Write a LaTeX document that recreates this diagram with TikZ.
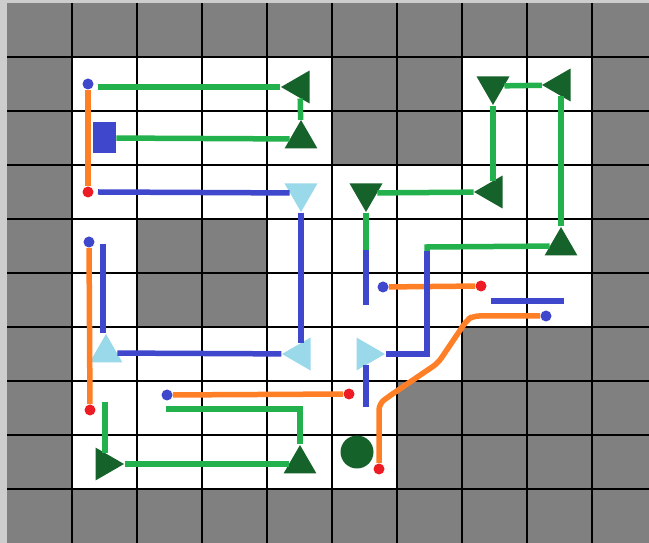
\documentclass[tikz,border=0pt]{standalone}
\usetikzlibrary{shapes.geometric}
\definecolor{wireG}{RGB}{34,177,76}
\definecolor{markG}{RGB}{21,98,42}
\definecolor{wireB}{RGB}{63,72,204}
\definecolor{markB}{RGB}{153,217,234}
\definecolor{wireO}{RGB}{255,127,39}
\definecolor{dotR}{RGB}{237,28,36}
\definecolor{wallC}{RGB}{128,128,128}
\definecolor{rimC}{RGB}{205,205,205}

\begin{document}
\begin{tikzpicture}[x=0.02cm, y=-0.02cm,
    wire/.style={line width=0.11cm},
    tri/.style={regular polygon, regular polygon sides=3, minimum size=0.76cm,
      inner sep=0pt, fill=#1},
    triU/.style={tri=#1},
    triD/.style={tri=#1, shape border rotate=180},
    triL/.style={tri=#1, shape border rotate=90},
    triR/.style={tri=#1, shape border rotate=-90},
    pin/.style={circle, fill=#1, minimum size=0.22cm, inner sep=0pt}]
    \useasboundingbox (0,0) rectangle (649,543);
    \fill[rimC](0,0) rectangle (649,543);
    \fill[wallC](7,3) rectangle (649,543);
    \foreach \r/\cols in {1/{1,2,3,4,7,8}, 2/{1,2,3,4,7,8}, 3/{1,...,8},
      4/{1,4,5,6,7,8}, 5/{1,4,5,6,7,8}, 6/{1,...,6}, 7/{1,...,5}, 8/{1,...,5}}{%
      \foreach \c in \cols{%
        \fill[white]({7+65*\c},{3+54*\r}) rectangle +(65,54);}}
    \foreach \k in {1,...,9}{%
      \draw[line width=0.04cm]({7+65*\k},3)--({7+65*\k},543);
      \draw[line width=0.04cm](7,{3+54*\k})--(649,{3+54*\k});}
    % markers
    \node[triL=markG] (t1) at (300,87){};
    \node[triU=markG] (t2) at (301,139){};
    \node[triD=markB] (t3) at (301,193){};
    \node[triL=markB] (t4) at (301,354){};
    \node[triU=markB] (t5) at (106,353){};
    \node[triU=markG] (t6) at (300,464){};
    \node[triR=markG] (t7) at (105,464){};
    \node[triD=markG] (t8) at (366,193){};
    \node[triL=markG] (t9) at (493,192){};
    \node[triD=markG] (t10) at (493,86){};
    \node[triL=markG] (t11) at (561,85){};
    \node[triU=markG] (t12) at (561,246){};
    \node[triR=markB] (t13) at (366,354){};
    \node[fill=wireB, minimum width=0.46cm, minimum height=0.62cm, inner sep=0pt] (sq) at (104.5,138){};
    \node[circle, fill=markG, minimum size=0.66cm, inner sep=0pt] (ball) at (357,452){};
    \node[pin=wireB] (d1) at (88,84){};
    \node[pin=dotR] (d2) at (88,192){};
    \node[pin=wireB] (d3) at (89,242){};
    \node[pin=dotR] (d4) at (90,410){};
    \node[pin=wireB] (d5) at (167,395){};
    \node[pin=dotR] (d6) at (349,394){};
    \node[pin=wireB] (d7) at (383,287){};
    \node[pin=dotR] (d8) at (481,286){};
    \node[pin=wireB] (d9) at (546,316){};
    \node[pin=dotR] (d10) at (379,469){};
    \coordinate (g1) at (98,87);
    \coordinate (g2) at (166,409);
    \coordinate (g3) at (105,402);
    \coordinate (b1) at (98,192);
    \coordinate (b2) at (103,244);
    \coordinate (s1) at (491,301);
    \coordinate (s2) at (564,301);
    \coordinate (k1) at (366,250);
    \coordinate (k2) at (366,305);
    \coordinate (k3) at (427,247);
    \coordinate (k4) at (427,251);
    \coordinate (k5) at (366,407);
    % wires
    \draw[wire, wireO](d1)--(d2);
    \draw[wire, wireO](d3)--(d4);
    \draw[wire, wireO](d5)--(d6);
    \draw[wire, wireO](d7)--(d8);
    \draw[wire, wireO, rounded corners=1.2mm](d10)--(379,404)--(388,397)--(438,363)
      --(467,320)--(473,316)--(d9);
    \draw[wire, wireG](g1)--(t1);
    \draw[wire, wireG](t1)--(t2);
    \draw[wire, wireG](sq)--(t2);
    \draw[wire, wireG](g2)--(g2 -| t6)--(t6);
    \draw[wire, wireG](t7)--(t6);
    \draw[wire, wireG](g3)--(t7);
    \draw[wire, wireG](t8)--(k1);
    \draw[wire, wireG](t8)--(t9);
    \draw[wire, wireG](t9)--(t10);
    \draw[wire, wireG](t10)--(t11);
    \draw[wire, wireG](t11)--(t12);
    \draw[wire, wireG](t12)--(k3)--(k4);
    \draw[wire, wireB](b1)--(t3);
    \draw[wire, wireB](t3)--(t4);
    \draw[wire, wireB](t4)--(t5);
    \draw[wire, wireB](b2)--(b2 |- t5.north);
    \draw[wire, wireB](k1)--(k2);
    \draw[wire, wireB](k4)--(k4 |- t13)--(t13);
    \draw[wire, wireB](t13)--(k5);
    \draw[wire, wireB](s1)--(s2);
  \end{tikzpicture}
\end{document}
